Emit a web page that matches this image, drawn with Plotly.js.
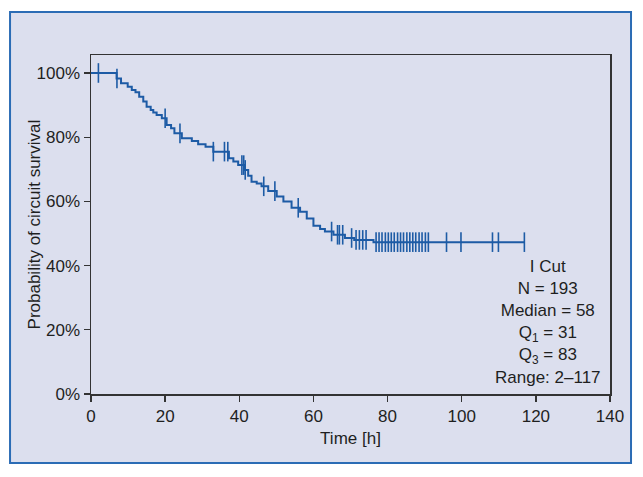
<!DOCTYPE html>
<html><head><meta charset="utf-8">
<script src="https://cdn.plot.ly/plotly-3.0.1.min.js"></script>
<style>html,body{margin:0;padding:0;background:#fff;}#chart{width:643px;height:477px;}</style>
</head><body><div id="chart"></div>
<script>
// Kaplan-Meier step data (event times in hours, survival probability after the event)
const eventTimes = [0, 6.9, 8.1, 9.9, 11.0, 12.0, 13.0, 14.1, 15.0, 16.1, 16.8, 17.7, 19.1, 20.4, 21.6, 22.5, 24.5, 27.2, 28.9, 30.9, 33.0, 37.2, 38.4, 39.7, 41.5, 42.4, 43.3, 44.7, 46.0, 47.8, 50.1, 51.9, 54.1, 56.4, 58.2, 60.0, 61.8, 63.1, 65.4, 68.5, 71.0, 76.2];
const survival = [1.0, 0.983, 0.968, 0.957, 0.947, 0.940, 0.926, 0.911, 0.895, 0.885, 0.877, 0.869, 0.859, 0.838, 0.828, 0.812, 0.797, 0.788, 0.778, 0.770, 0.755, 0.734, 0.724, 0.713, 0.698, 0.680, 0.661, 0.656, 0.647, 0.632, 0.615, 0.600, 0.580, 0.568, 0.547, 0.524, 0.514, 0.506, 0.496, 0.486, 0.480, 0.473];
const lastTime = 117;
// censored observations (hours)
const censorTimes = [2, 7, 20.0, 24.0, 33.0, 36.0, 36.9, 40.7, 41.2, 41.6, 46.6, 49.6, 55.9, 64.9, 66.5, 67.0, 67.9, 70.3, 71.5, 72.4, 73.3, 74.2, 76.9, 77.7, 78.5, 79.4, 80.2, 81.0, 81.8, 82.7, 83.5, 84.3, 85.2, 86.0, 86.8, 87.6, 88.5, 89.3, 90.2, 91.0, 95.9, 99.8, 108.3, 109.9, 116.9];
const xTicks = [0, 20, 40, 60, 80, 100, 120, 140];
const yTicks = [0, 0.2, 0.4, 0.6, 0.8, 1.0];
const yTickText = ['0%', '20%', '40%', '60%', '80%', '100%'];
const xTitle = 'Time [h]';
const yTitle = 'Probability of circuit survival';
const statsLines = ['I Cut', 'N = 193', 'Median = 58', 'Q<sub>1</sub> = 31', 'Q<sub>3</sub> = 83', 'Range: 2–117'];

function survAt(t){
  let s = survival[0];
  for (let i = 0; i < eventTimes.length; i++){ if (eventTimes[i] <= t) s = survival[i]; }
  return s;
}
const lineX = eventTimes.concat([lastTime]);
const lineY = survival.concat([survival[survival.length-1]]);
const censorY = censorTimes.map(survAt);

const blue = '#1d5ba5';
const font = "Liberation Sans, Arial, sans-serif";
const txt = '#1f1f1f';
const fs = 17;

const traces = [
  {x: lineX, y: lineY, type: 'scatter', mode: 'lines', line: {shape: 'hv', color: blue, width: 2}, hoverinfo: 'skip'},
  {x: censorTimes, y: censorY, type: 'scatter', mode: 'markers', marker: {symbol: 'line-ns', size: 14, line: {color: blue, width: 1.6}}, hoverinfo: 'skip'}
];

const layout = {
  width: 643, height: 477,
  margin: {l: 91, r: 33, t: 55, b: 83},
  paper_bgcolor: '#ffffff',
  plot_bgcolor: '#ffffff',
  showlegend: false,
  font: {family: font, size: fs, color: txt},
  xaxis: {
    range: [0, 140], tickvals: xTicks, ticktext: xTicks.map(String),
    showgrid: false, zeroline: false, showline: true, linecolor: '#333', linewidth: 1.5, mirror: true,
    ticks: 'outside', ticklen: 6, tickcolor: '#333', tickwidth: 1.3,
    tickfont: {family: font, size: fs, color: txt},
    title: {text: xTitle, font: {family: font, size: fs, color: txt}, standoff: 7}
  },
  yaxis: {
    range: [0, 1.056], tickvals: yTicks, ticktext: yTickText,
    showgrid: false, zeroline: false, showline: true, linecolor: '#333', linewidth: 1.5, mirror: true,
    ticks: 'outside', ticklen: 6, tickcolor: '#333', tickwidth: 1.3,
    tickfont: {family: font, size: fs, color: txt}
  },
  shapes: [
    {type: 'rect', xref: 'paper', yref: 'paper', x0: -0.156, x1: 1.0405, y0: -0.2035, y1: 1.1268,
     fillcolor: '#dcdfee', line: {color: '#2b6cb5', width: 2}, layer: 'below'}
  ],
  annotations: [
    {xref: 'paper', yref: 'paper', x: -0.108, y: 0.5, xanchor: 'center', yanchor: 'middle', textangle: -90, showarrow: false,
     text: yTitle, font: {family: font, size: fs, color: txt}},
    {xref: 'x', yref: 'y', x: 123.3, y: 0.224, xanchor: 'center', yanchor: 'middle', align: 'center', showarrow: false,
     text: statsLines.join('<br>'), font: {family: font, size: fs, color: txt}}
  ]
};
Plotly.newPlot('chart', traces, layout, {displayModeBar: false, staticPlot: true});
</script></body></html>
